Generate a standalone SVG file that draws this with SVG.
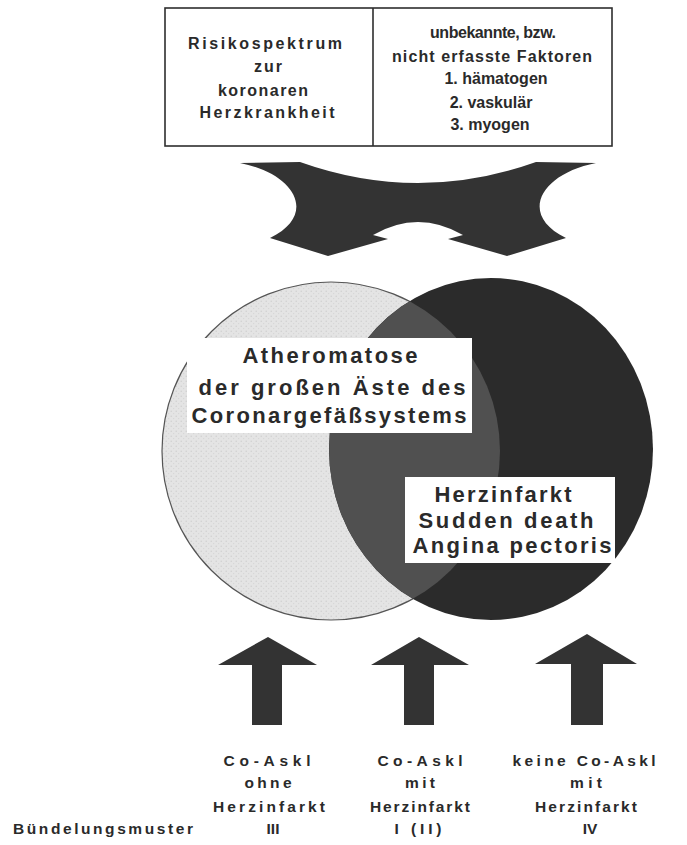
<svg xmlns="http://www.w3.org/2000/svg" width="687" height="845" viewBox="0 0 687 845">
<style>
text{font-family:"Liberation Sans",Arial,sans-serif;font-weight:bold;fill:#2a2a2a;text-anchor:middle}
.t15{font-size:16px}
.t21{font-size:22px}
.t14{font-size:15.5px}
.shape{fill:#333333}
.lbl{fill:#ffffff}
</style>
<defs>
<clipPath id="darkClip"><ellipse cx="491" cy="449" rx="162" ry="171"/></clipPath>
<pattern id="stipple" width="5" height="5" patternUnits="userSpaceOnUse">
<rect width="5" height="5" fill="#e4e4e4"/>
<circle cx="1.2" cy="1.3" r="0.7" fill="#cdcdcd"/>
<circle cx="3.7" cy="3.6" r="0.6" fill="#d2d2d2"/>
</pattern>
</defs>
<rect width="687" height="845" fill="#ffffff"/>

<g id="top-box">
<rect x="165" y="8" width="447" height="138" fill="#ffffff" stroke="#2e2e2e" stroke-width="1.6"/>
<line x1="373" y1="8" x2="373" y2="146" stroke="#2e2e2e" stroke-width="1.6"/>
<text class="t15" x="265" y="49" textLength="154" lengthAdjust="spacing">Risikospektrum</text>
<text class="t15" x="268" y="72" textLength="28" lengthAdjust="spacing">zur</text>
<text class="t15" x="263" y="96" textLength="90" lengthAdjust="spacing">koronaren</text>
<text class="t15" x="267" y="118" textLength="135" lengthAdjust="spacing">Herzkrankheit</text>
<text class="t15" x="493" y="38" textLength="126" lengthAdjust="spacing">unbekannte, bzw.</text>
<text class="t15" x="492" y="62" textLength="200" lengthAdjust="spacing">nicht erfasste Faktoren</text>
<text class="t15" x="496" y="84">1. hämatogen</text>
<text class="t15" x="491" y="108">2. vaskulär</text>
<text class="t15" x="490" y="130">3. myogen</text>
</g>

<g id="x-arrow">
<path class="shape" d="M240,163 L300,162 Q418,204 536,162 L596,163 C540,174 518,215 566,238 L507,256 L448,239 L463,235 Q418,209 373,235 L388,239 L328,256 L270,238 C318,215 296,174 240,163 Z"/>
</g>

<g id="venn">
<circle id="set-athero" cx="331" cy="451" r="169" fill="url(#stipple)" stroke="#555555" stroke-width="1.2"/>
<ellipse id="set-herz" cx="491" cy="449" rx="162" ry="171" fill="#2b2b2b"/>
<circle cx="331" cy="451" r="169" fill="#505050" clip-path="url(#darkClip)"/>
</g>

<g id="label-athero">
<rect class="lbl" x="187" y="338" width="285" height="95"/>
<text class="t21" x="330" y="363" textLength="175" lengthAdjust="spacing">Atheromatose</text>
<text class="t21" x="332" y="395" textLength="267" lengthAdjust="spacing">der großen Äste des</text>
<text class="t21" x="329" y="423" textLength="275" lengthAdjust="spacing">Coronargefäßsystems</text>
</g>

<g id="label-herz">
<rect class="lbl" x="405" y="477" width="210" height="86"/>
<text class="t21" x="503" y="502" textLength="137" lengthAdjust="spacing">Herzinfarkt</text>
<text class="t21" x="506" y="528" textLength="175" lengthAdjust="spacing">Sudden death</text>
<text class="t21" x="512" y="553" textLength="199" lengthAdjust="spacing">Angina pectoris</text>
</g>

<g id="connectors">
<path class="shape" d="M268,637 L317,665 L282,665 L282,725 L252,725 L252,665 L218,665 Z"/>
<path class="shape" d="M419,637 L469,665 L434,665 L434,725 L404,725 L404,665 L371,665 Z"/>
<path class="shape" d="M587,634 L637,664 L603,664 L603,725 L571,725 L571,664 L535,664 Z"/>
</g>

<g id="group-iii">
<text class="t14" x="267" y="766" textLength="87" lengthAdjust="spacing">Co-Askl</text>
<text class="t14" x="268" y="788" textLength="47" lengthAdjust="spacing">ohne</text>
<text class="t14" x="269" y="812" textLength="112" lengthAdjust="spacing">Herzinfarkt</text>
<text class="t14" x="273" y="834">III</text>
</g>
<g id="group-i">
<text class="t14" x="420" y="766" textLength="85" lengthAdjust="spacing">Co-Askl</text>
<text class="t14" x="420" y="788" textLength="30" lengthAdjust="spacing">mit</text>
<text class="t14" x="420" y="812" textLength="100" lengthAdjust="spacing">Herzinfarkt</text>
<text class="t14" x="418" y="834" textLength="47" lengthAdjust="spacing">I (II)</text>
</g>
<g id="group-iv">
<text class="t14" x="584" y="766" textLength="143" lengthAdjust="spacing">keine Co-Askl</text>
<text class="t14" x="586" y="788" textLength="32" lengthAdjust="spacing">mit</text>
<text class="t14" x="586" y="812" textLength="102" lengthAdjust="spacing">Herzinfarkt</text>
<text class="t14" x="590" y="834">IV</text>
</g>
<g id="row-label">
<text class="t14" x="103" y="834" textLength="180" lengthAdjust="spacing">Bündelungsmuster</text>
</g>
</svg>
